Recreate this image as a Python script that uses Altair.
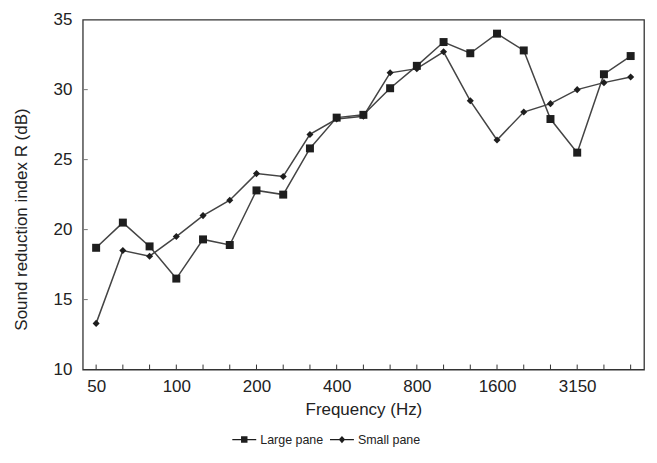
import altair as alt
import pandas as pd

freqs = ["50", "63", "80", "100", "125", "160", "200", "250", "315", "400", "500",
         "630", "800", "1000", "1250", "1600", "2000", "2500", "3150", "4000", "5000"]
large_pane = [18.7, 20.5, 18.8, 16.5, 19.3, 18.9, 22.8, 22.5, 25.8, 28.0, 28.2,
              30.1, 31.7, 33.4, 32.6, 34.0, 32.8, 27.9, 25.5, 31.1, 32.4]
small_pane = [13.3, 18.5, 18.1, 19.5, 21.0, 22.1, 24.0, 23.8, 26.8, 27.9, 28.1,
              31.2, 31.5, 32.7, 29.2, 26.4, 28.4, 29.0, 30.0, 30.5, 30.9]
series_names = ["Large pane", "Small pane"]
shown_labels = ["50", "100", "200", "400", "800", "1600", "3150"]
y_ticks = [15, 20, 25, 30]

rows = []
for f, a, b in zip(freqs, large_pane, small_pane):
    rows.append({"freq": f, "R": a, "series": series_names[0]})
    rows.append({"freq": f, "R": b, "series": series_names[1]})
df = pd.DataFrame(rows)

FONT = "Liberation Sans"
TXT = "#222222"

xscale = alt.Scale(type="point", domain=freqs, padding=0.5)
yscale = alt.Scale(domain=[10, 35], nice=False, zero=False)

label_expr = "indexof(" + str(shown_labels) + ", datum.label) >= 0 ? datum.label : ''"

x_enc = alt.X(
    "freq:O", scale=xscale, sort=freqs,
    axis=alt.Axis(title="Frequency (Hz)", labelAngle=0, labelExpr=label_expr,
                  ticks=False, domain=False, grid=False, labelPadding=9,
                  labelFontSize=17, titleFontSize=17, titlePadding=7,
                  labelFont=FONT, titleFont=FONT, labelColor=TXT, titleColor=TXT,
                  titleFontWeight="normal"),
)
y_enc = alt.Y(
    "R:Q", scale=yscale,
    axis=alt.Axis(title="Sound reduction index R (dB)", values=[10, 15, 20, 25, 30, 35],
                  ticks=False, domain=False, grid=False, labelPadding=11,
                  labelFontSize=17, titleFontSize=17, labelFont=FONT, titleFont=FONT,
                  labelColor=TXT, titleColor=TXT, titleFontWeight="normal",
                  titleAngle=270, titleX=-61, titleY=200, titleAlign="center",
                  titleBaseline="middle"),
)

lines = alt.Chart(df).mark_line(color="#444444", strokeWidth=1.5).encode(
    x=x_enc, y=y_enc, detail="series:N"
)

points = alt.Chart(df).mark_point(filled=True, color="#1e1e1e", opacity=1).encode(
    x=x_enc, y=y_enc,
    shape=alt.Shape("series:N", scale=alt.Scale(domain=series_names, range=["square", "diamond"]), legend=None),
    size=alt.Size("series:N", scale=alt.Scale(domain=series_names, range=[64, 50]), legend=None),
)

path_large = "M-1,-0.05H1V0.05H-1Z M-0.27,-0.27H0.27V0.27H-0.27Z"
path_small = "M-1,-0.05H1V0.05H-1Z M0,-0.3L0.27,0L0,0.3L-0.27,0Z"

legend_layer = alt.Chart(df).mark_point(filled=True, color="#1e1e1e", opacity=0).encode(
    x=x_enc, y=y_enc,
    shape=alt.Shape(
        "series:N",
        scale=alt.Scale(domain=series_names, range=[path_large, path_small]),
        legend=alt.Legend(title=None, orient="none", direction="horizontal",
                          legendX=150, legendY=409, symbolOpacity=1,
                          symbolSize=576, symbolFillColor="#1e1e1e",
                          symbolStrokeWidth=0, labelFont=FONT, labelFontSize=12.5,
                          labelColor=TXT, labelOffset=4, columnPadding=6),
    ),
)

freq_df = pd.DataFrame({"freq": freqs})
xticks = alt.Chart(freq_df).mark_rule(color="#333333", strokeWidth=1).encode(
    x=alt.X("freq:O", scale=xscale, sort=freqs),
    y=alt.value(351), y2=alt.value(346),
)
ytick_df = pd.DataFrame({"R": y_ticks})
yticks = alt.Chart(ytick_df).mark_rule(color="#777777", strokeWidth=1).encode(
    y=alt.Y("R:Q", scale=yscale), x=alt.value(0), x2=alt.value(5),
)

chart = alt.layer(lines, points, legend_layer, xticks, yticks).resolve_scale(
    shape="independent", size="independent"
).properties(
    width=563, height=351, autosize="none",
    padding={"left": 75, "top": 11, "right": 5, "bottom": 82},
    background="white",
).configure_view(stroke="#333333", strokeWidth=1.3)

chart.save("out.html", embed_options={"renderer": "svg", "actions": False})
